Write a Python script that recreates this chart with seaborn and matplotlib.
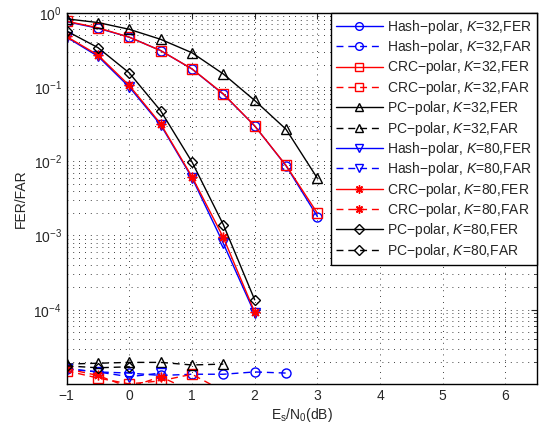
import numpy as np
import pandas as pd
import seaborn as sns
import matplotlib
matplotlib.use("Agg")
import matplotlib.pyplot as plt
from matplotlib.ticker import LogLocator, NullFormatter

# Es/N0 grids
snr_k32 = [-1, -0.5, 0, 0.5, 1, 1.5, 2, 2.5, 3]
snr_k80 = [-1, -0.5, 0, 0.5, 1, 1.5, 2]

# FER curves
hash_k32_fer = [0.76, 0.62, 0.47, 0.31, 0.175, 0.08, 0.030, 0.0087, 0.0018]
crc_k32_fer = [0.77, 0.63, 0.47, 0.31, 0.176, 0.081, 0.030, 0.0088, 0.0020]
pc_k32_fer = [0.83, 0.74, 0.60, 0.44, 0.29, 0.15, 0.066, 0.027, 0.0059]
hash_k80_fer = [0.47, 0.26, 0.100, 0.031, 0.0060, 0.00078, 0.000089]
crc_k80_fer = [0.48, 0.27, 0.105, 0.032, 0.0062, 0.00094, 0.000093]
pc_k80_fer = [0.57, 0.34, 0.155, 0.048, 0.0098, 0.0014, 0.000136]

# FAR curves (all near the floor of the plot)
snr_hash_k32_far = [-1, -0.5, 0, 0.5, 1, 1.5, 2, 2.5]
hash_k32_far = [1.6e-5, 1.45e-5, 1.4e-5, 1.3e-5, 1.35e-5, 1.35e-5, 1.45e-5, 1.4e-5]
snr_crc_k32_far = [-1, -0.5, 0, 0.5, 1, 1.5]
crc_k32_far = [1.5e-5, 1.2e-5, 1.0e-5, 1.1e-5, 1.35e-5, 8e-6]
snr_pc_k32_far = [-1, -0.5, 0, 0.5, 1, 1.5]
pc_k32_far = [1.85e-5, 1.9e-5, 1.95e-5, 1.95e-5, 1.8e-5, 1.85e-5]
snr_hash_k80_far = [-1, -0.5, 0, 0.5]
hash_k80_far = [1.6e-5, 1.45e-5, 1.25e-5, 1.4e-5]
snr_crc_k80_far = [-1, -0.5, 0, 0.5, 1]
crc_k80_far = [1.6e-5, 1.3e-5, 9e-6, 1.25e-5, 8e-6]
snr_pc_k80_far = [-1, -0.5, 0]
pc_k80_far = [1.75e-5, 1.65e-5, 1.7e-5]

labels = [
    "Hash\u2212polar, $K$=32,FER", "Hash\u2212polar, $K$=32,FAR",
    "CRC\u2212polar, $K$=32,FER", "CRC\u2212polar, $K$=32,FAR",
    "PC\u2212polar, $K$=32,FER", "PC\u2212polar, $K$=32,FAR",
    "Hash\u2212polar, $K$=80,FER", "Hash\u2212polar, $K$=80,FAR",
    "CRC\u2212polar, $K$=80,FER", "CRC\u2212polar, $K$=80,FAR",
    "PC\u2212polar, $K$=80,FER", "PC\u2212polar, $K$=80,FAR",
]

star = (8, 2, 0)
series = [
    (snr_k32, hash_k32_fer, "blue", "o", "-"),
    (snr_hash_k32_far, hash_k32_far, "blue", "o", "--"),
    (snr_k32, crc_k32_fer, "red", "s", "-"),
    (snr_crc_k32_far, crc_k32_far, "red", "s", "--"),
    (snr_k32, pc_k32_fer, "black", "^", "-"),
    (snr_pc_k32_far, pc_k32_far, "black", "^", "--"),
    (snr_k80, hash_k80_fer, "blue", "v", "-"),
    (snr_hash_k80_far, hash_k80_far, "blue", "v", "--"),
    (snr_k80, crc_k80_fer, "red", star, "-"),
    (snr_crc_k80_far, crc_k80_far, "red", star, "--"),
    (snr_k80, pc_k80_fer, "black", "D", "-"),
    (snr_pc_k80_far, pc_k80_far, "black", "D", "--"),
]
sizes = {"o": 6.5, "s": 6.5, "^": 7.5, "v": 7.5, "D": 5.5}

sns.set_style("white")
plt.rcParams["font.family"] = ["Liberation Sans", "DejaVu Sans"]
plt.rcParams["mathtext.fontset"] = "custom"
plt.rcParams["mathtext.rm"] = "Liberation Sans"
plt.rcParams["mathtext.it"] = "Liberation Sans:italic"
plt.rcParams["font.size"] = 10
plt.rcParams["lines.dashed_pattern"] = (5, 3.5)

fig = plt.figure(figsize=(5.39, 4.28), dpi=100)
ax = fig.add_axes([0.1235, 0.103, 0.8725, 0.867])

for (xs, ys, col, mk, ls), lab in zip(series, labels):
    df = pd.DataFrame({"x": xs, "y": ys})
    ms = sizes.get(mk, 7) if isinstance(mk, str) else 7
    sns.lineplot(data=df, x="x", y="y", ax=ax, color=col, marker=mk,
                 linestyle=ls, linewidth=1.0, markersize=ms,
                 markerfacecolor="none", markeredgecolor=col,
                 markeredgewidth=1.0, label=lab, sort=False, estimator=None)

ax.set_yscale("log")
ax.set_xlim(-1, 6.5)
ax.set_ylim(1e-5, 1)
ax.set_xticks([-1, 0, 1, 2, 3, 4, 5, 6])
ax.set_xticklabels(["\u22121", "0", "1", "2", "3", "4", "5", "6"])
ax.set_yticks([1e-4, 1e-3, 1e-2, 1e-1, 1])
ax.yaxis.set_minor_locator(LogLocator(base=10, subs=np.arange(2, 10), numticks=20))
ax.yaxis.set_minor_formatter(NullFormatter())

dots = (0, (1, 6))
ax.grid(True, which="major", linestyle=dots, color="black", linewidth=0.6)
ax.grid(True, which="minor", axis="y", linestyle=dots, color="black", linewidth=0.6)
ax.tick_params(which="both", direction="in", top=True, right=True, labelsize=10)
ax.tick_params(which="major", length=4)
ax.tick_params(which="minor", length=2)
for sp in ax.spines.values():
    sp.set_color("black")
    sp.set_linewidth(1.0)

ax.set_xlabel("E$_\\mathregular{s}$/N$_\\mathregular{0}$(dB)", fontsize=10, labelpad=2)
ax.set_ylabel("FER/FAR", fontsize=10, labelpad=4)

leg = ax.legend(loc="upper right", borderaxespad=0, fontsize=10, frameon=True,
                fancybox=False, edgecolor="black", framealpha=1,
                handlelength=3.4, handletextpad=0.3, labelspacing=0.17,
                borderpad=0.35, markerscale=0.85)
leg.get_frame().set_linewidth(1.0)

fig.savefig("out.png", dpi=100)
